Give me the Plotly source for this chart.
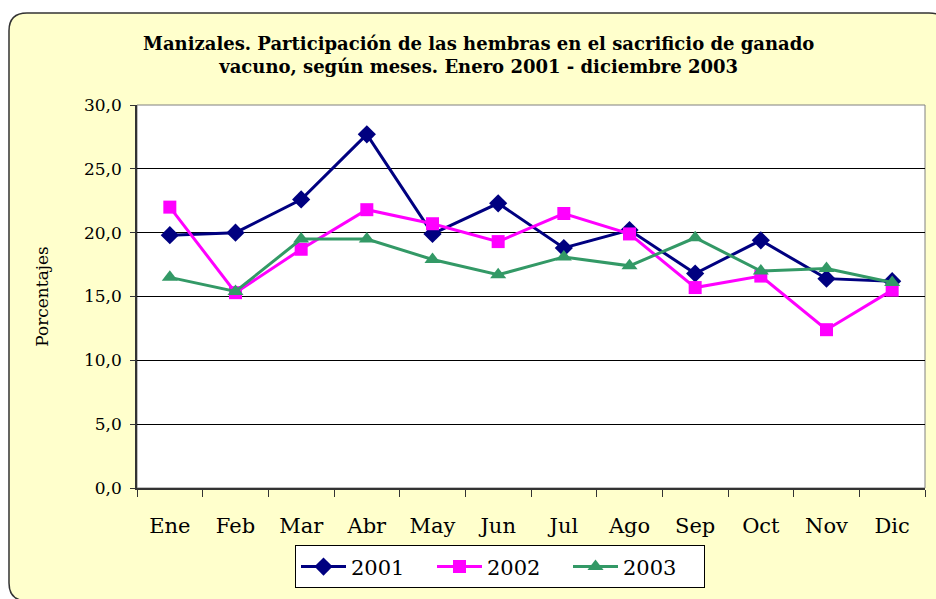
import plotly.graph_objects as go

meses = ['Ene', 'Feb', 'Mar', 'Abr', 'May', 'Jun', 'Jul', 'Ago', 'Sep', 'Oct', 'Nov', 'Dic']
h2001 = [19.8, 20.0, 22.6, 27.7, 19.9, 22.3, 18.8, 20.2, 16.8, 19.4, 16.4, 16.2]
h2002 = [22.0, 15.3, 18.7, 21.8, 20.7, 19.3, 21.5, 19.9, 15.7, 16.6, 12.4, 15.5]
h2003 = [16.5, 15.4, 19.5, 19.5, 17.9, 16.7, 18.1, 17.4, 19.6, 17.0, 17.2, 16.1]
yticks = [0, 5, 10, 15, 20, 25, 30]
ytick_text = ['0,0', '5,0', '10,0', '15,0', '20,0', '25,0', '30,0']

W, H = 936, 599
L, R, T, B = 137, 11, 105, 107
pw, ph = W - L - R, H - T - B


def px2paper(x, y):
    return (x - L) / pw, (H - B - y) / ph


def frame_path(x0, y0, x1, y1, r):
    # rounded rectangle in pixel coords, converted to paper coords
    def p(x, y):
        a, b = px2paper(x, y)
        return f'{a:.5f},{b:.5f}'
    s = 'M ' + p(x0 + r, y0)
    s += ' L ' + p(x1 - r, y0) + ' Q ' + p(x1, y0) + ' ' + p(x1, y0 + r)
    s += ' L ' + p(x1, y1 - r) + ' Q ' + p(x1, y1) + ' ' + p(x1 - r, y1)
    s += ' L ' + p(x0 + r, y1) + ' Q ' + p(x0, y1) + ' ' + p(x0, y1 - r)
    s += ' L ' + p(x0, y0 + r) + ' Q ' + p(x0, y0) + ' ' + p(x0 + r, y0) + ' Z'
    return s


series = [
    ('2001', h2001, '#000080', 'diamond', 14),
    ('2002', h2002, '#FF00FF', 'square', 13),
    ('2003', h2003, '#339966', 'triangle-up', 14),
]

fig = go.Figure()
for name, vals, col, sym, sz in series:
    fig.add_trace(go.Scatter(x=meses, y=vals, name=name, mode='lines+markers',
                             line=dict(color=col, width=3),
                             marker=dict(symbol=sym, size=sz, color=col)))

fig.add_shape(type='path', xref='paper', yref='paper', layer='below',
              path=frame_path(9, 12, 947, 606, 18),
              fillcolor='#FFFFCC', line=dict(color='#333333', width=1.5))
fig.add_shape(type='rect', xref='paper', yref='paper', layer='below',
              x0=0, y0=0, x1=1, y1=1, fillcolor='white',
              line=dict(color='#808080', width=1))

tx, ty = px2paper(478, 54)
fig.add_annotation(x=tx, y=ty, xref='paper', yref='paper', showarrow=False,
                   xanchor='center', yanchor='middle',
                   text='<b>Manizales. Participación de las hembras en el sacrificio de ganado<br>vacuno, según meses. Enero 2001 - diciembre 2003</b>',
                   font=dict(family='DejaVu Serif', size=18, color='black'),
                   align='center')

lx, ly = px2paper(500, 550)
fig.update_layout(
    width=W, height=H,
    margin=dict(l=L, r=R, t=T, b=B),
    paper_bgcolor='white',
    plot_bgcolor='rgba(0,0,0,0)',
    font=dict(family='DejaVu Serif', size=17, color='black'),
    showlegend=True,
    legend=dict(orientation='h', x=lx, y=ly, xanchor='center', yanchor='top',
                bgcolor='white', bordercolor='black', borderwidth=1,
                font=dict(size=21), itemwidth=45, entrywidth=76),
    xaxis=dict(type='category', range=[-0.5, 11.5], showline=True,
               linecolor='#333333', linewidth=1.5,
               ticks='outside', tickson='boundaries', ticklen=7, tickcolor='#333333',
               ticklabelstandoff=18, showgrid=False, tickfont=dict(size=21)),
    yaxis=dict(range=[0, 30], tickvals=yticks, ticktext=ytick_text,
               showline=True, linecolor='#333333', linewidth=1.5,
               ticks='outside', ticklen=5, tickcolor='#333333', ticklabelstandoff=5,
               showgrid=True, gridcolor='black', gridwidth=1, zeroline=False,
               tickfont=dict(size=17),
               title=dict(text='Porcentajes', font=dict(size=17), standoff=31)),
)

fig.write_html('out.html', config={'displayModeBar': False},
               post_script="document.body.style.margin='0';")
